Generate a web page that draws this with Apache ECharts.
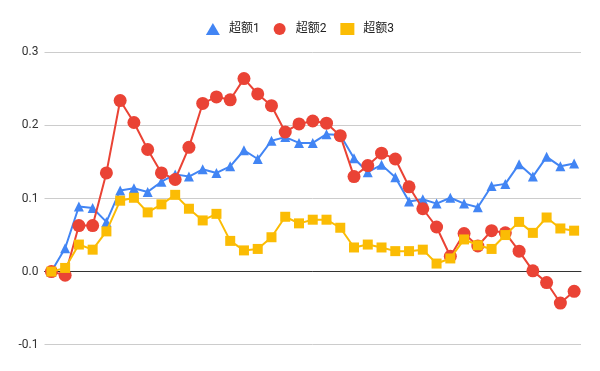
<!DOCTYPE html>
<html>
<head>
<meta charset="utf-8">
<script src="https://cdn.jsdelivr.net/npm/echarts@6/dist/echarts.min.js"></script>
<style>html,body{margin:0;padding:0;background:#fff}#c{width:600px;height:371px}</style>
</head>
<body>
<div id="c"></div>
<script>
const categories = Array.from({length: 39}, (_, i) => String(i + 1));
const seriesNames = ['超额1', '超额2', '超额3'];
const excess1 = [0.000, 0.032, 0.089, 0.087, 0.068, 0.111, 0.114, 0.109, 0.123, 0.133, 0.130, 0.140, 0.135, 0.144,
  0.166, 0.154, 0.179, 0.184, 0.176, 0.176, 0.188, 0.187, 0.155, 0.136, 0.146, 0.129, 0.096, 0.099, 0.093,
  0.101, 0.093, 0.088, 0.117, 0.120, 0.147, 0.130, 0.157, 0.144, 0.148];
const excess2 = [0.000, -0.005, 0.063, 0.063, 0.135, 0.234, 0.204, 0.167, 0.135, 0.126, 0.170, 0.230, 0.239, 0.235,
  0.264, 0.243, 0.227, 0.191, 0.202, 0.206, 0.203, 0.186, 0.130, 0.145, 0.162, 0.154, 0.116, 0.086, 0.061,
  0.021, 0.052, 0.035, 0.056, 0.053, 0.028, 0.001, -0.015, -0.043, -0.027];
const excess3 = [0.000, 0.005, 0.037, 0.030, 0.055, 0.097, 0.101, 0.081, 0.092, 0.105, 0.086, 0.070, 0.079, 0.042,
  0.029, 0.031, 0.047, 0.075, 0.066, 0.071, 0.071, 0.060, 0.033, 0.037, 0.033, 0.028, 0.028, 0.030, 0.011,
  0.018, 0.044, 0.036, 0.031, 0.050, 0.068, 0.053, 0.074, 0.059, 0.056];
const yTicks = [-0.1, 0.0, 0.1, 0.2, 0.3];

const colors = ['#4285F4', '#EA4335', '#FBBC04'];
const symbols = ['triangle', 'circle', 'rect'];
const sizes = [10, 13, 10];
const values = [excess1, excess2, excess3];

const chart = echarts.init(document.getElementById('c'), null, {renderer: 'canvas'});
chart.setOption({
  animation: false,
  color: colors,
  textStyle: {fontFamily: 'Roboto, "Noto Sans CJK SC", sans-serif'},
  legend: {
    top: 18,
    left: 'center',
    itemWidth: 14,
    itemHeight: 12,
    itemGap: 14,
    textStyle: {color: '#222', fontSize: 12, fontFamily: 'Roboto, "Noto Sans CJK SC", sans-serif', padding: [0, 0, 0, 4]},
    data: seriesNames.map((n, i) => ({name: n, icon: symbols[i]}))
  },
  grid: {left: 44.5, right: 19, top: 52.3, bottom: 26.3, containLabel: false},
  xAxis: {
    type: 'category',
    data: categories,
    boundaryGap: true,
    axisLabel: {show: false},
    axisTick: {show: false},
    axisLine: {show: true, onZero: true, lineStyle: {color: '#333', width: 1}}
  },
  yAxis: {
    type: 'value',
    min: yTicks[0],
    max: yTicks[yTicks.length - 1],
    interval: 0.1,
    axisLine: {show: false},
    axisTick: {show: false},
    axisLabel: {color: '#333', fontSize: 12, margin: 6, formatter: v => v.toFixed(1)},
    splitLine: {lineStyle: {color: '#ccc', width: 1}}
  },
  series: values.map((d, i) => ({
    name: seriesNames[i],
    type: 'line',
    data: d,
    symbol: symbols[i],
    symbolSize: sizes[i],
    showAllSymbol: true,
    lineStyle: {width: 2, color: colors[i]},
    itemStyle: {color: colors[i]},
    z: 2 + i
  }))
});
</script>
</body>
</html>
